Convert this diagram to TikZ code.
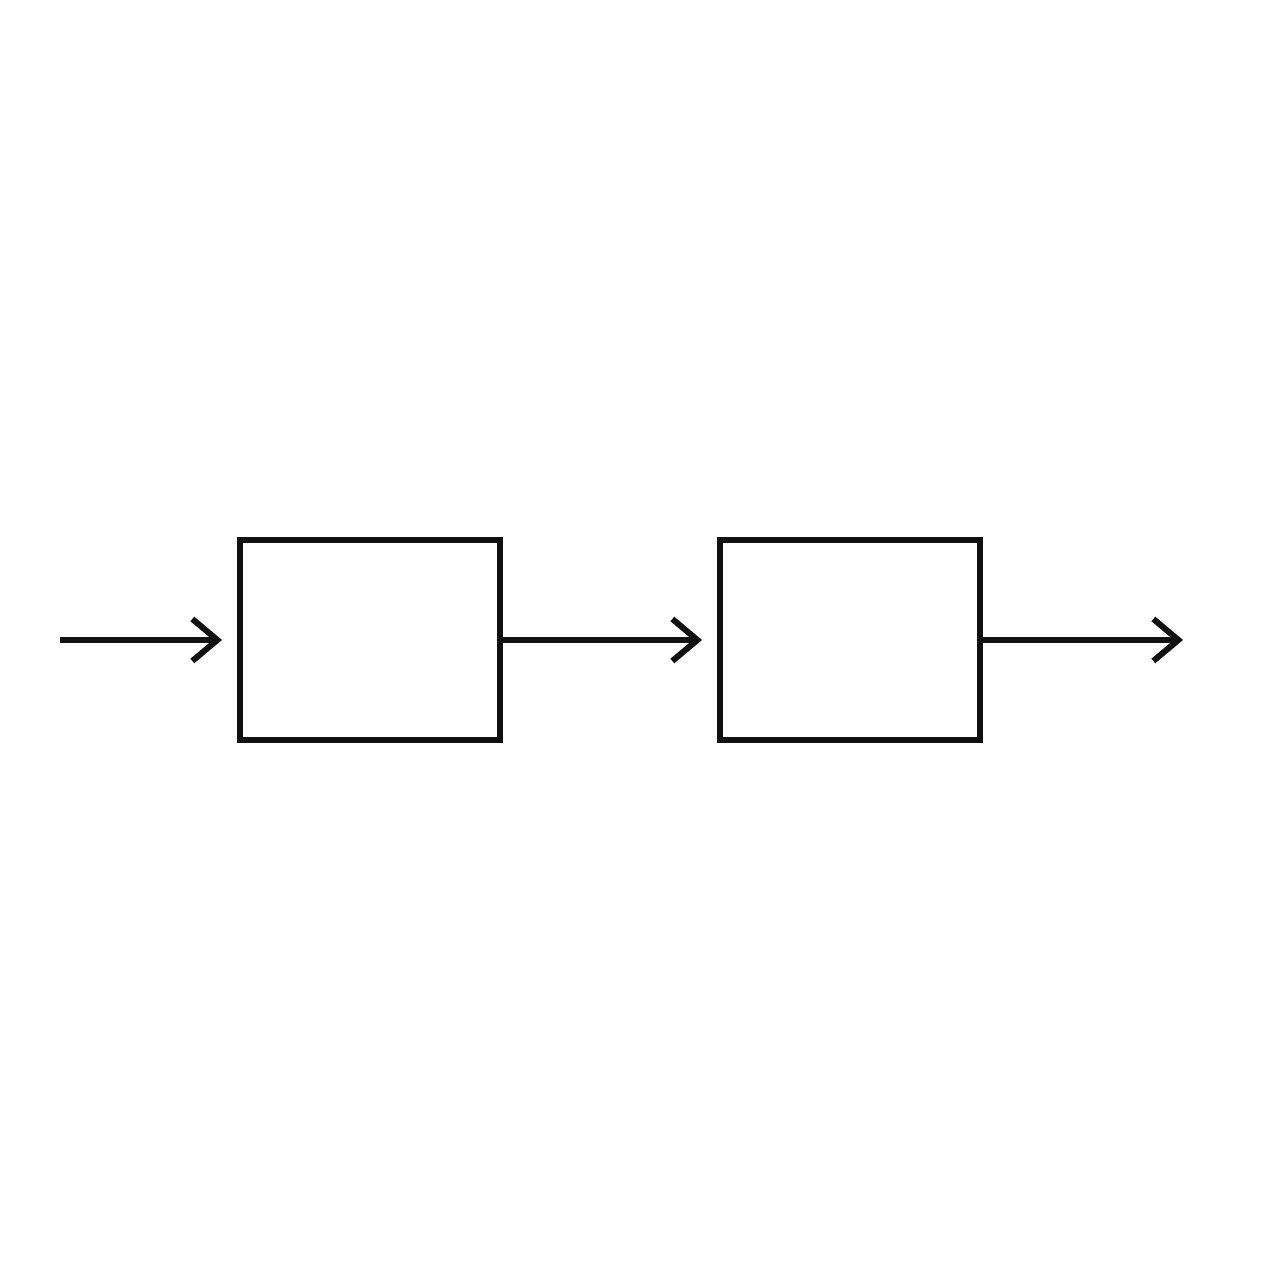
\documentclass[tikz,border=0pt]{standalone}
\usepackage{tikz}
\usetikzlibrary{calc,positioning,arrows.meta}
\definecolor{ink}{HTML}{111111}

\begin{document}
\begin{tikzpicture}[
      box/.style={draw=ink, line width=0.06cm, minimum width=26mm, minimum height=20mm, inner sep=0pt},
      arr/.style={-{Straight Barb[length=0.25cm, width=0.42cm, line width=0.06cm]}, draw=ink, line width=0.06cm, shorten >=0.15cm}
    ]
    \useasboundingbox (0,0) rectangle (12.8,12.8);

    % Two boxes in a row
    \node[box] (first)  at (3.7,6.4) {};
    \node[box] (second) at (8.5,6.4) {};

    % Free ends
    \coordinate (in)  at (0.6,6.4);
    \coordinate (out) at (11.83,6.4);

    % Arrows
    \draw[arr] (in) -- (first.west);
    \draw[arr] (first.east) -- (second.west);
    \draw[arr, shorten >=0pt] (second.east) -- (out);
  \end{tikzpicture}
\end{document}
